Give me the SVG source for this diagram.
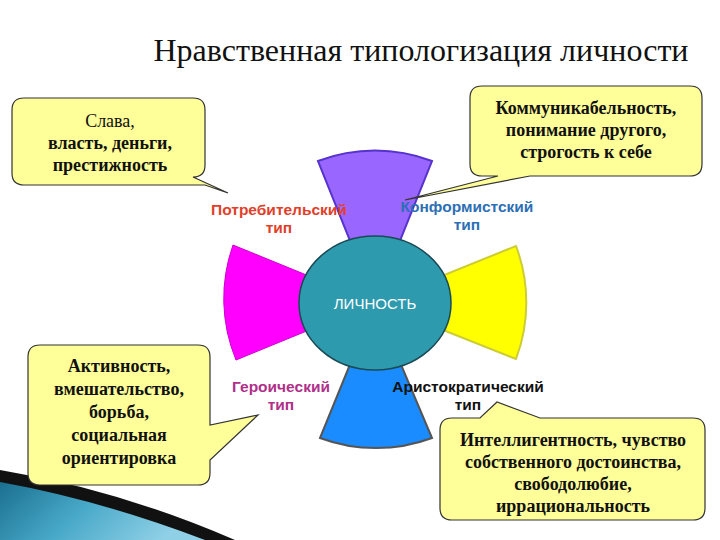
<svg xmlns="http://www.w3.org/2000/svg" width="720" height="540" viewBox="0 0 720 540">
<defs>
<linearGradient id="sw" x1="0" y1="0" x2="1" y2="0.3"><stop offset="0" stop-color="#1a6f8f"/><stop offset="0.5" stop-color="#49a9c9"/><stop offset="1" stop-color="#8fd0e6"/></linearGradient>
<style>
.cb{fill:#ffff99;stroke:#333;stroke-width:1.2}
.ct{font-family:"Liberation Serif",serif;font-weight:bold;font-size:18px;text-anchor:middle;fill:#111}
.tl{font-family:"Liberation Sans",sans-serif;font-weight:bold;font-size:15.5px;text-anchor:middle}
</style>
</defs>
<rect width="720" height="540" fill="#fff"/>
<g id="decor">
<path d="M0,470 Q120,490 235,540 L0,540 Z" fill="#111"/>
<path d="M0,482 Q100,500 205,540 L0,540 Z" fill="url(#sw)"/>
</g>
<text x="421" y="61" font-family="Liberation Serif,serif" font-size="32" text-anchor="middle" fill="#111">Нравственная типологизация личности</text>
<g id="sectors">
<path id="s-top" d="M318,161 A160 160 0 0 1 432,161 L375,303 Z" fill="#9966ff" stroke="#5533cc" stroke-width="2"/>
<path id="s-left" d="M233,245 A160 160 0 0 0 236,360 L375,303 Z" fill="#ff00ff" stroke="#cc00cc" stroke-width="1"/>
<path id="s-right" d="M516,246 A160 160 0 0 1 516,359 L375,303 Z" fill="#ffff00" stroke="#cccc33" stroke-width="2"/>
<path id="s-bottom" d="M320,438 A160 160 0 0 0 432,438 L375,303 Z" fill="#1a8cff" stroke="#555" stroke-width="2"/>
</g>
<g id="center">
<ellipse cx="375" cy="303" rx="76" ry="67" fill="#2e9aae" stroke="#1a4a55" stroke-width="1.5"/>
<text x="375" y="309" font-family="Liberation Sans,sans-serif" font-size="15" text-anchor="middle" fill="#fff">ЛИЧНОСТЬ</text>
</g>
<g id="callout-tl">
<path class="cb" d="M24,98 H193 Q205,98 205,110 V165 Q205,177 193,177 L228,193 L205,185 H24 Q12,185 12,173 V110 Q12,98 24,98 Z"/>
<text class="ct" y="127"><tspan x="110" style="font-weight:normal">Слава,</tspan><tspan x="110" dy="22">власть, деньги,</tspan><tspan x="110" dy="22">престижность</tspan></text>
</g>
<g id="callout-tr">
<path class="cb" d="M482,86 H690 Q702,86 702,98 V164 Q702,176 690,176 H530 L405,200 L498,176 H482 Q470,176 470,164 V98 Q470,86 482,86 Z"/>
<text class="ct" y="114"><tspan x="586">Коммуникабельность,</tspan><tspan x="586" dy="22">понимание другого,</tspan><tspan x="586" dy="22">строгость к себе</tspan></text>
</g>
<g id="callout-bl">
<path class="cb" d="M40,345 H198 Q210,345 210,357 V425 L258,415 L210,460 V473 Q210,485 198,485 H40 Q28,485 28,473 V357 Q28,345 40,345 Z"/>
<text class="ct" y="372"><tspan x="119">Активность,</tspan><tspan x="119" dy="23">вмешательство,</tspan><tspan x="119" dy="23">борьба,</tspan><tspan x="119" dy="23">социальная</tspan><tspan x="119" dy="23">ориентировка</tspan></text>
</g>
<g id="callout-br">
<path class="cb" d="M452,418 H480 L497,402 L540,418 H693 Q705,418 705,430 V508 Q705,520 693,520 H452 Q440,520 440,508 V430 Q440,418 452,418 Z"/>
<text class="ct" y="446"><tspan x="573">Интеллигентность, чувство</tspan><tspan x="573" dy="22">собственного достоинства,</tspan><tspan x="573" dy="22">свободолюбие,</tspan><tspan x="573" dy="22">иррациональность</tspan></text>
</g>
<g id="labels">
<text class="tl" fill="#e0402a" y="215"><tspan x="279">Потребительский</tspan><tspan x="279" dy="18">тип</tspan></text>
<text class="tl" fill="#2d6fb5" y="212"><tspan x="467">Конформистский</tspan><tspan x="467" dy="18">тип</tspan></text>
<text class="tl" fill="#b0308a" y="392"><tspan x="281">Героический</tspan><tspan x="281" dy="18">тип</tspan></text>
<text class="tl" fill="#111" y="392"><tspan x="468">Аристократический</tspan><tspan x="468" dy="18">тип</tspan></text>
</g>
</svg>
